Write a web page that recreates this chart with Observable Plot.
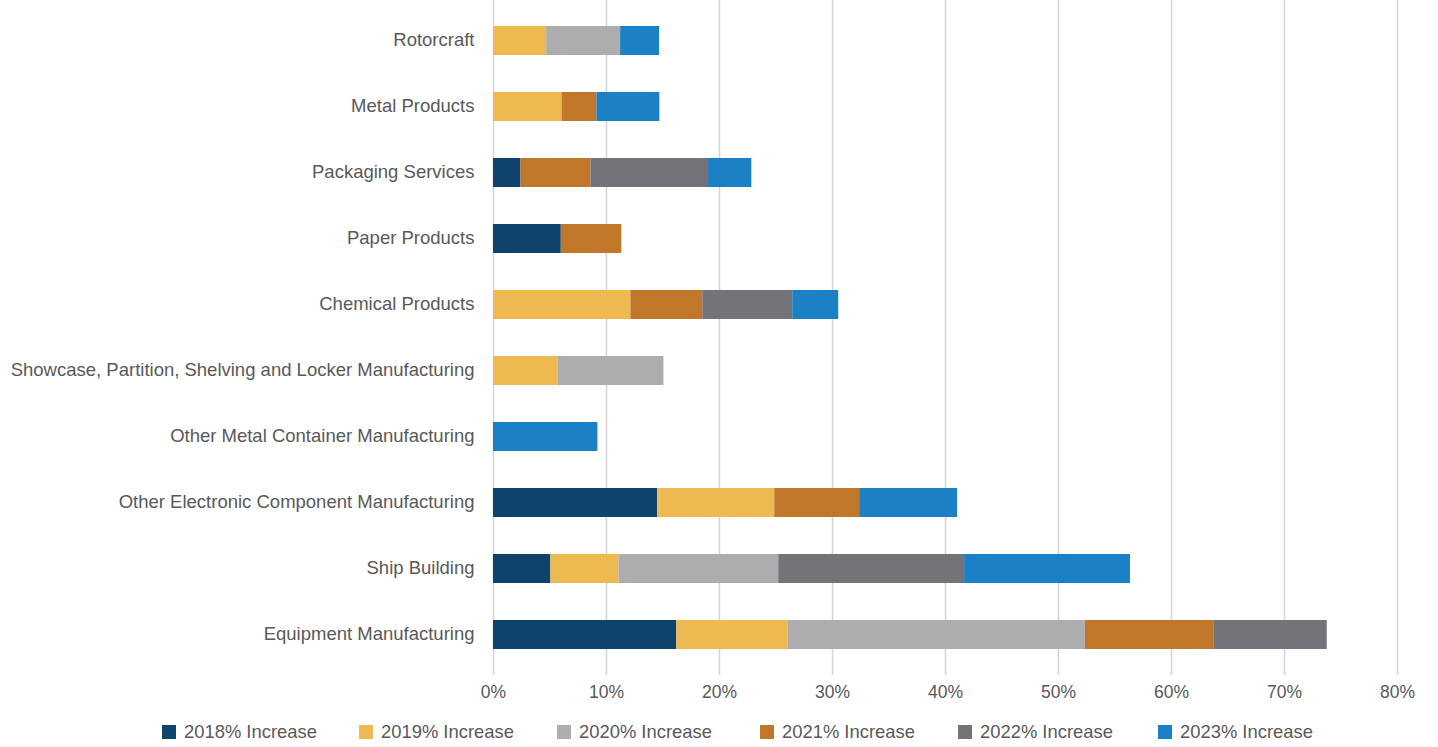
<!DOCTYPE html>
<html>
<head>
<meta charset="utf-8">
<script src="https://cdn.jsdelivr.net/npm/d3@7"></script>
<script src="https://cdn.jsdelivr.net/npm/@observablehq/plot@0.6"></script>
<style>
  html, body { margin: 0; padding: 0; background: #fff; }
  body { width: 1438px; height: 747px; position: relative; overflow: hidden; font-family: "Liberation Sans", Arial, sans-serif; }
  #legend { position: absolute; left: 0; top: 720px; width: 1438px; height: 24px; }
  .item { position: absolute; top: 0; display: flex; align-items: center; height: 24px; font-size: 18.4px; color: #595959; white-space: nowrap; }
  .sw { width: 14px; height: 14px; margin-right: 8px; }
</style>
</head>
<body>
<div id="chart"></div>
<div id="legend"></div>
<script>
const categories = [
  "Rotorcraft",
  "Metal Products",
  "Packaging Services",
  "Paper Products",
  "Chemical Products",
  "Showcase, Partition, Shelving and Locker Manufacturing",
  "Other Metal Container Manufacturing",
  "Other Electronic Component Manufacturing",
  "Ship Building",
  "Equipment Manufacturing"
];
const seriesNames = ["2018% Increase", "2019% Increase", "2020% Increase", "2021% Increase", "2022% Increase", "2023% Increase"];
const seriesColors = ["#0F436E", "#EFB952", "#ADADAF", "#C0772A", "#747378", "#1B80C4"];

// values in percent, same order as categories
const v2018 = [0,    0,    2.43, 6.0,  0,     0,    0,    14.54, 5.08,  16.22];
const v2019 = [4.7,  6.06, 0,    0,    12.16, 5.70, 0,    10.35, 6.02,  9.87];
const v2020 = [6.55, 0,    0,    0,    0,     9.38, 0,    0,     14.14, 26.3];
const v2021 = [0,    3.09, 6.19, 5.36, 6.36,  0,    0,    7.51,  0,     11.4];
const v2022 = [0,    0,    10.41,0,    7.96,  0,    0,    0,     16.45, 9.99];
const v2023 = [3.45, 5.57, 3.83, 0,    4.07,  0,    9.24, 8.67,  14.68, 0];
const xTicks = [0, 0.1, 0.2, 0.3, 0.4, 0.5, 0.6, 0.7, 0.8];

const seriesValues = [v2018, v2019, v2020, v2021, v2022, v2023];
const rows = [];
seriesNames.forEach((s, si) => {
  categories.forEach((c, ci) => {
    const v = seriesValues[si][ci];
    if (v > 0) rows.push({category: c, series: s, value: v / 100});
  });
});

const font = '"Liberation Sans", Arial, sans-serif';
const chart = Plot.plot({
  width: 1438,
  height: 706,
  marginLeft: 493,
  marginRight: 41,
  marginTop: 0,
  marginBottom: 31,
  style: {fontFamily: font, fontSize: "17px", color: "#595959", background: "#fff"},
  x: {domain: [0, 0.8], ticks: xTicks, tickFormat: d3.format(".0%"), label: null},
  y: {domain: categories, range: [5, 671], paddingInner: 0.56, paddingOuter: 0.28, label: null},
  color: {domain: seriesNames, range: seriesColors},
  marks: [
    Plot.gridX(xTicks, {stroke: "#d4d3dc", strokeOpacity: 1, strokeWidth: 1.5}),
    Plot.barX(rows, Plot.stackX({x: "value", y: "category", fill: "series", order: seriesNames})),
    Plot.axisX(xTicks, {tickSize: 0, tickPadding: 10, tickFormat: d3.format(".0%"), fontSize: 17.5, fill: "#595959", label: null}),
    Plot.axisY({tickSize: 0, tickPadding: 19, fontSize: 18.5, fill: "#595959", dy: -1, label: null})
  ]
});
document.getElementById("chart").appendChild(chart);

const lefts = [162, 359, 557, 760, 958, 1158];
const legend = document.getElementById("legend");
seriesNames.forEach((s, i) => {
  const it = document.createElement("div");
  it.className = "item";
  it.style.left = lefts[i] + "px";
  const sw = document.createElement("span");
  sw.className = "sw";
  sw.style.background = seriesColors[i];
  it.appendChild(sw);
  it.appendChild(document.createTextNode(s));
  legend.appendChild(it);
});
</script>
</body>
</html>
